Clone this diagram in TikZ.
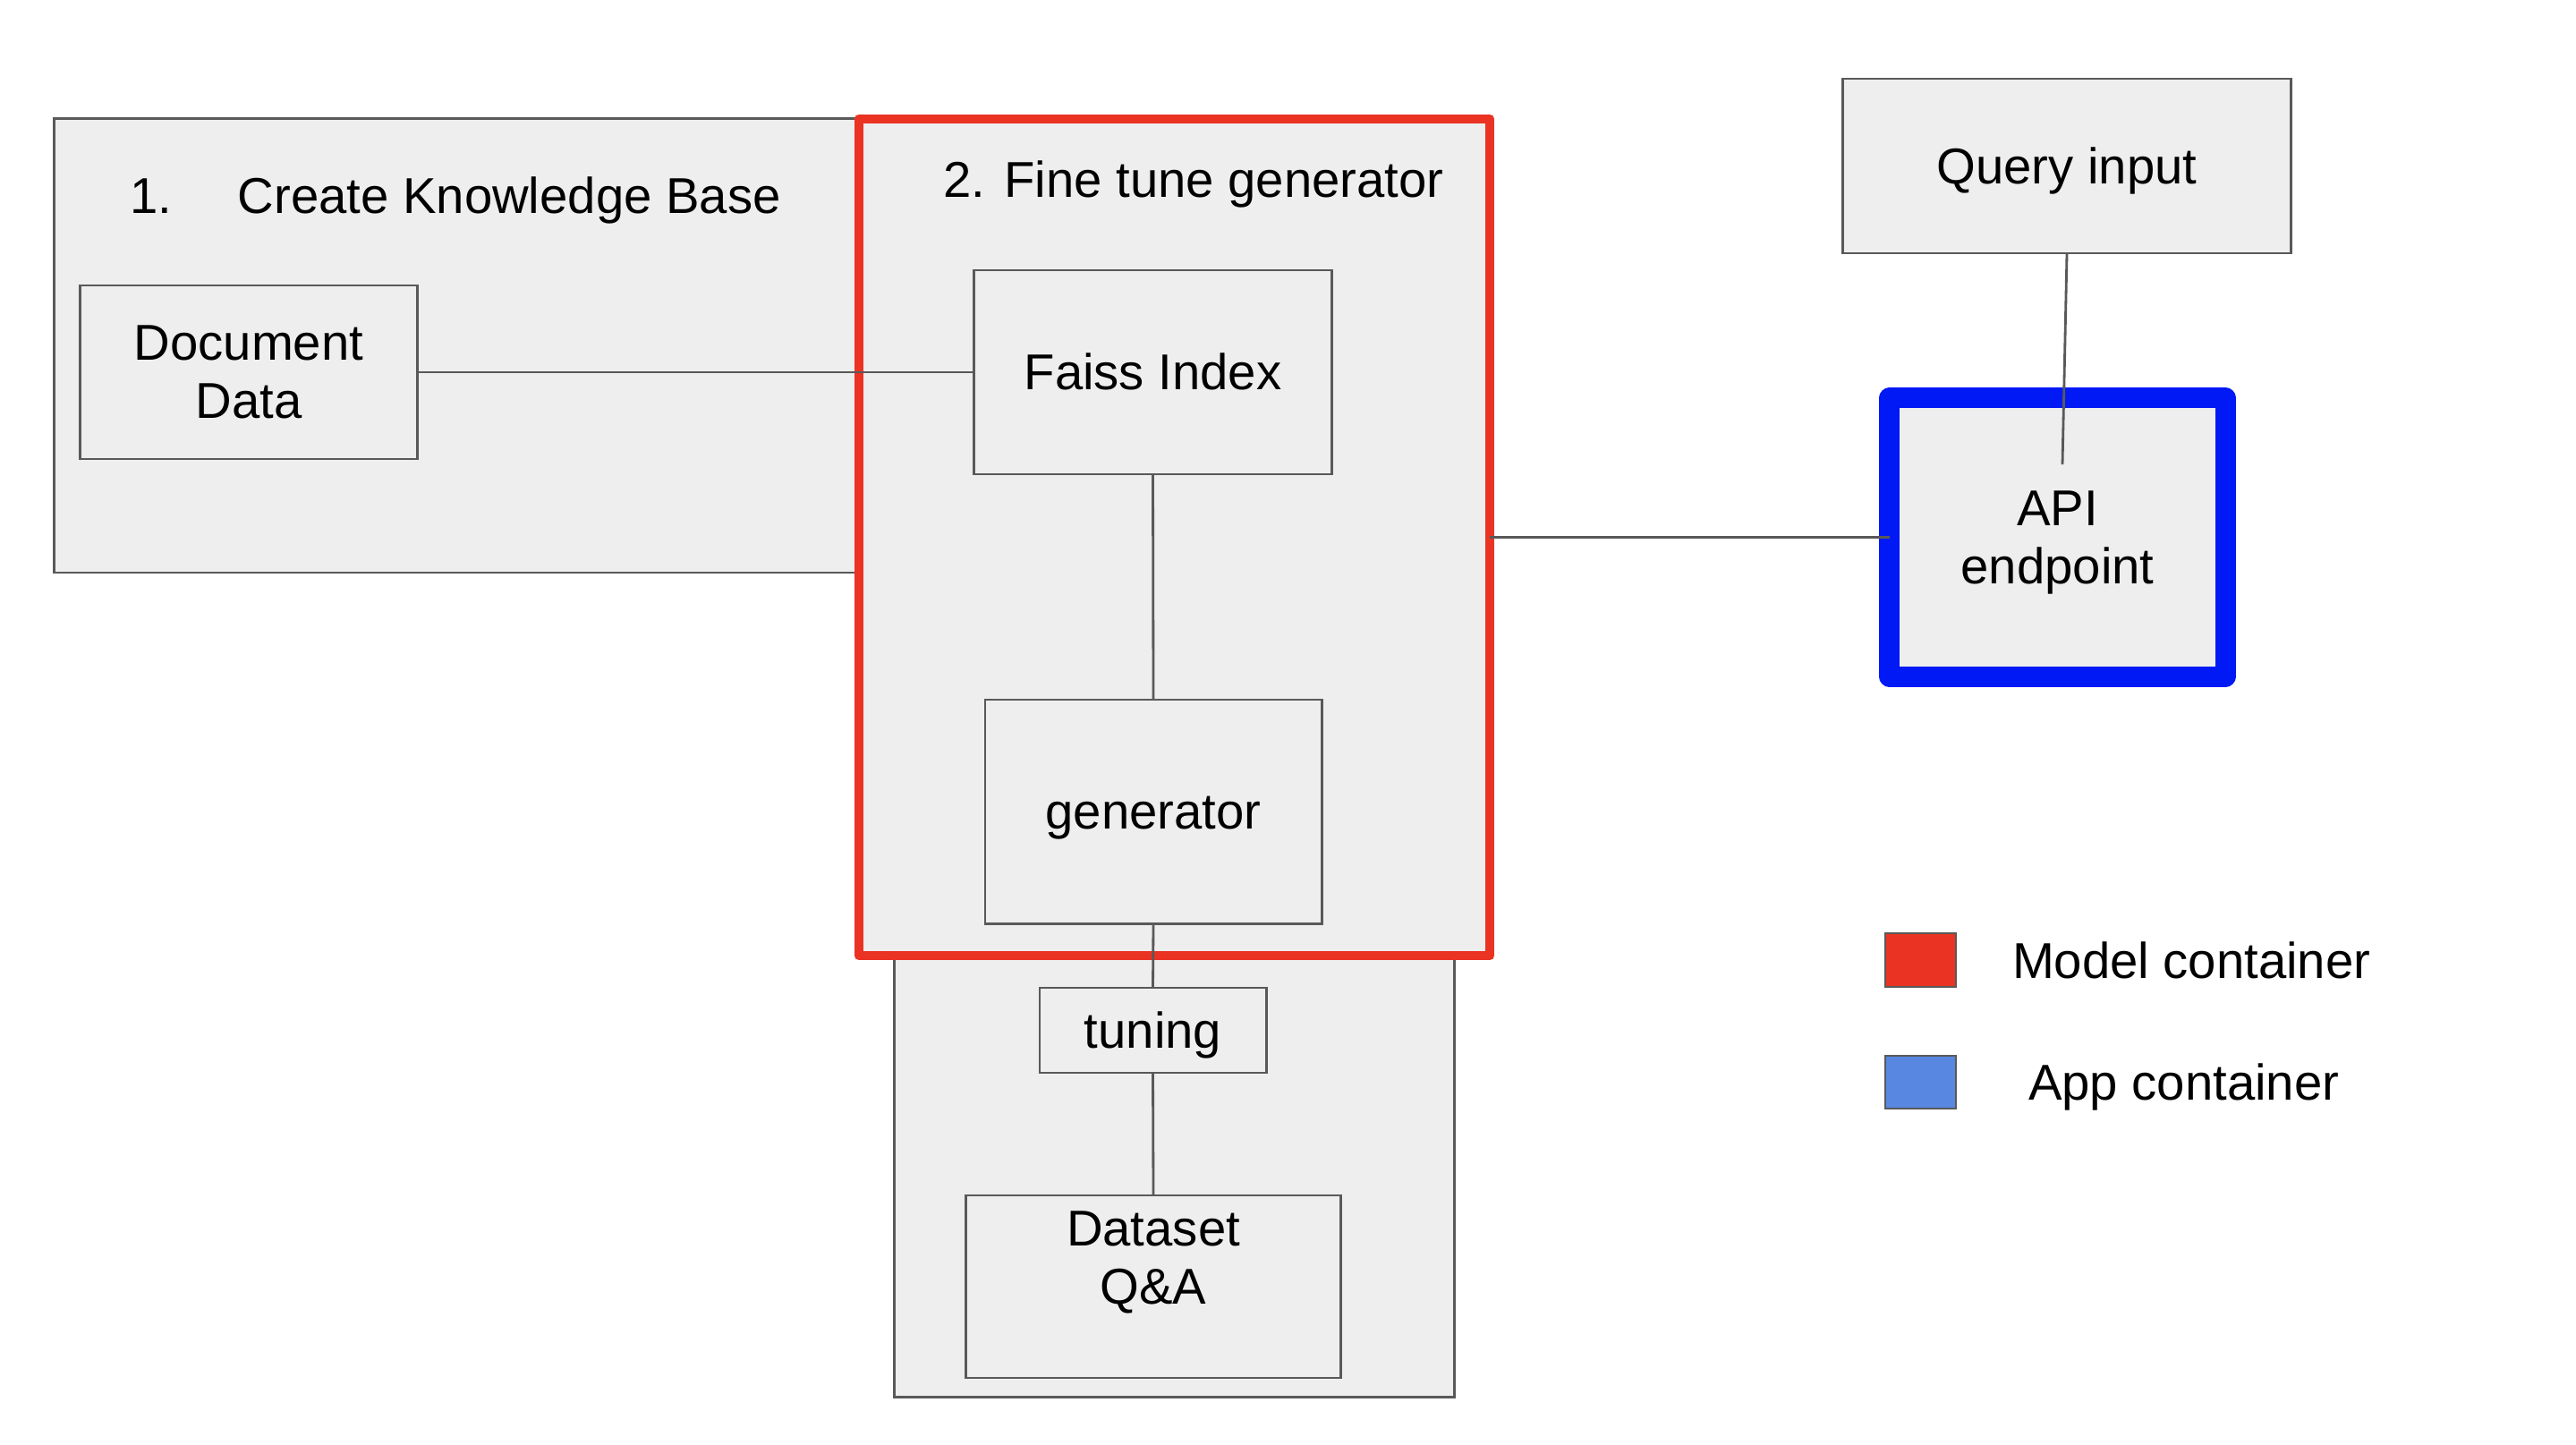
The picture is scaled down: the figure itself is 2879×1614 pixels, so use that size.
\documentclass[tikz,border=0pt]{standalone}
\usepackage{fontspec}
\setmainfont{Liberation Sans}
\definecolor{boxgray}{HTML}{EEEEEE}
\definecolor{edgegray}{HTML}{595959}
\definecolor{modelred}{HTML}{EA3323}
\definecolor{apiblue}{HTML}{0019F5}
\definecolor{legendblue}{HTML}{5787E0}

\tikzset{
    block/.style={draw=edgegray, fill=boxgray, line width=0.8pt, inner sep=0pt, outer sep=0pt,
        align=center, font=\fontsize{16}{18.5}\selectfont},
    oneline/.style={block, text height=14.4pt, text depth=3.2pt},
    container/.style={block, draw=modelred, line width=2.9pt, line join=round},
    endpoint/.style={block, draw=apiblue, line width=6.5pt, line join=round},
    caption/.style={inner sep=0pt, outer sep=0pt, align=center, font=\fontsize{16}{18.5}\selectfont},
    link/.style={draw=edgegray, line width=0.8pt},
}

\begin{document}
\begin{tikzpicture}[x=0.01cm, y=-0.01cm]
    \useasboundingbox (0,0) rectangle (2879,1614);

    % step 1
    \node[block, minimum width=8.99cm, minimum height=5.075cm] (kb) at (510.5,386) {};
    \node[caption, anchor=base west] (kbtitle) at (145,238.5) {1.\hspace{21pt}Create Knowledge Base};
    \node[block, minimum width=3.76cm, minimum height=1.94cm] (doc) at (278,416) {Document\\Data};

    % step 2
    \node[block, minimum width=6.25cm, minimum height=5.61cm] (tunebox) at (1312.5,1280.5) {};
    \node[container, minimum width=7.05cm, minimum height=9.35cm] (finetune) at (1312.5,600.5) {};
    \node[caption, anchor=base] (ftitle) at (1334,220) {2. Fine tune generator};
    \node[oneline, minimum width=3.99cm, minimum height=2.28cm] (faiss) at (1288.5,416) {Faiss Index};
    \node[oneline, minimum width=3.76cm, minimum height=2.5cm] (gen) at (1289,907) {generator};
    \node[oneline, minimum width=2.53cm, minimum height=0.95cm] (tuning) at (1288.5,1151.5) {tuning};
    \node[block, minimum width=4.18cm, minimum height=2.04cm] (dataset) at (1289,1438) {};
    \node[caption, anchor=north] (datatext) at ([yshift=-0.176cm]dataset.north) {Dataset\\Q\&A};

    % app side
    \node[oneline, minimum width=5cm, minimum height=1.95cm] (query) at (2310,185.5) {Query input};
    \node[endpoint, minimum width=3.75cm, minimum height=3.11cm] (api) at (2299.5,600.5) {API\\\smash{endpoint}};
    \coordinate (queryend) at (2305,519);

    % legend
    \node[block, fill=modelred, minimum width=0.79cm, minimum height=0.6cm] (modelkey) at (2146.5,1073) {};
    \node[caption, anchor=base west] (modeltext) at (2249,1093) {Model container};
    \node[block, fill=legendblue, minimum width=0.79cm, minimum height=0.59cm] (appkey) at (2146.5,1209.5) {};
    \node[caption, anchor=base west] (apptext) at (2267,1229) {App container};

    % connectors
    \draw[link] (doc.east) -- (faiss.west);
    \draw[link] (faiss.south) -- (gen.north);
    \draw[link] (gen.south) -- (tuning.north);
    \draw[link] (tuning.south) -- (dataset.north);
    \draw[link] (finetune.east) -- (api.west);
    \draw[link] (query.south) -- (queryend);
\end{tikzpicture}
\end{document}
